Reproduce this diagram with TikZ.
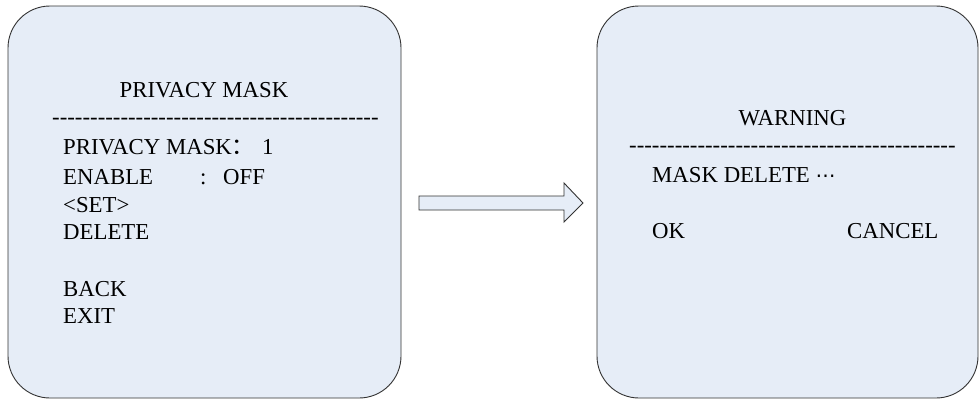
\documentclass[tikz,border=0pt]{standalone}
\usepackage{fontspec}
\setmainfont{Liberation Serif}
\newfontfamily\cjk{Noto Sans CJK SC}
\newfontfamily\dejavu{DejaVu Sans}
\newcommand\hyrow{\foreach \i in {1,...,43}{\mbox{-}}}
\begin{document}
\begin{tikzpicture}[x=1pt,y=1pt,
  screen/.style={draw=black!80,line width=0.9pt,fill=scrfill,rounded corners=42pt},
  txt/.style={anchor=base west,inner sep=0pt,font=\fontsize{22.8}{27}\selectfont},
  ctxt/.style={anchor=base,inner sep=0pt,font=\fontsize{22.8}{27}\selectfont}]
\definecolor{scrfill}{RGB}{230,237,247}
\useasboundingbox (0,0) rectangle (979,-400);
\fill[white] (0,0) rectangle (979,-400);
% screens
\draw[screen] (8,-6) rectangle (401,-398);
\draw[screen] (597,-6) rectangle (978,-398);
% left screen texts
\node[ctxt] (t1) at (204,-97) {PRIVACY MASK};
\node[txt] (d1) at (52,-124) {\hyrow};
\node[txt] (l1) at (63,-154) {PRIVACY MASK{\cjk ：}};
\node[txt] (l1v) at (262,-154) {1};
\node[txt] (l2) at (63,-184) {ENABLE};
\node[txt] (l2c) at (200,-184) {:};
\node[txt] (l2v) at (223,-184) {OFF};
\node[txt] (l3) at (63,-212) {<SET>};
\node[txt] (l4) at (63,-239) {DELETE};
\node[txt] (l5) at (63,-296) {BACK};
\node[txt] (l6) at (63,-323) {EXIT};
% arrow
\draw[draw=black!80,line width=0.9pt,fill=scrfill,line join=miter]
  (419,-196) -- (564,-196) -- (564,-183) -- (583,-203) -- (564,-222) -- (564,-210) -- (419,-210) -- cycle;
% right screen texts
\node[ctxt] (t2) at (792.5,-125) {WARNING};
\node[txt] (d2) at (629,-152) {\hyrow};
\node[txt] (r1) at (652,-182) {MASK DELETE {\dejavu\fontsize{20}{24}\selectfont ⋯}};
\node[txt] (r2) at (652,-238) {OK};
\node[txt] (r3) at (847,-238) {CANCEL};
\end{tikzpicture}
\end{document}
